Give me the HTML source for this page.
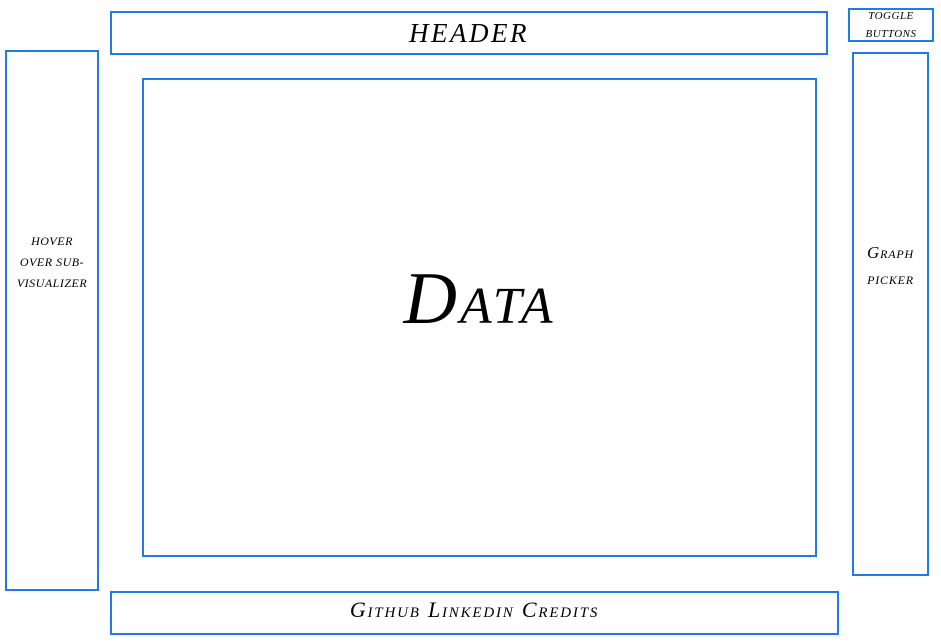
<!DOCTYPE html>
<html><head><style>
body{margin:0;width:941px;height:644px;background:#fff;position:relative;overflow:hidden;font-family:"Liberation Serif",serif;font-style:italic;color:#000}
.b{position:absolute;box-sizing:border-box;border:2px solid #1e7be8;display:flex;align-items:center;justify-content:center;text-align:center}
.sc{font-variant:small-caps}
</style></head><body>
<div class="b" style="left:110px;top:11px;width:718px;height:44px;font-size:27px;letter-spacing:2.5px">HEADER</div>
<div class="b" style="left:848px;top:8px;width:86px;height:34px;font-size:11px;line-height:18px;letter-spacing:0.5px">TOGGLE<br>BUTTONS</div>
<div class="b" style="left:5px;top:50px;width:94px;height:541px;font-size:12px;line-height:21px;letter-spacing:0.5px;padding-bottom:116px">HOVER<br>OVER SUB-<br>VISUALIZER</div>
<div class="b" style="left:142px;top:78px;width:675px;height:479px"><span class="sc" style="font-size:74px;letter-spacing:3px;position:relative;top:-18px">Data</span></div>
<div class="b" style="left:852px;top:52px;width:77px;height:524px;font-size:17px;line-height:26px;letter-spacing:0.8px;padding-bottom:96px"><span class="sc">Graph<br>picker</span></div>
<div class="b" style="left:110px;top:591px;width:729px;height:44px;font-size:22px;letter-spacing:1.8px;padding-bottom:6px"><span class="sc">Github Linkedin Credits</span></div>
</body></html>
